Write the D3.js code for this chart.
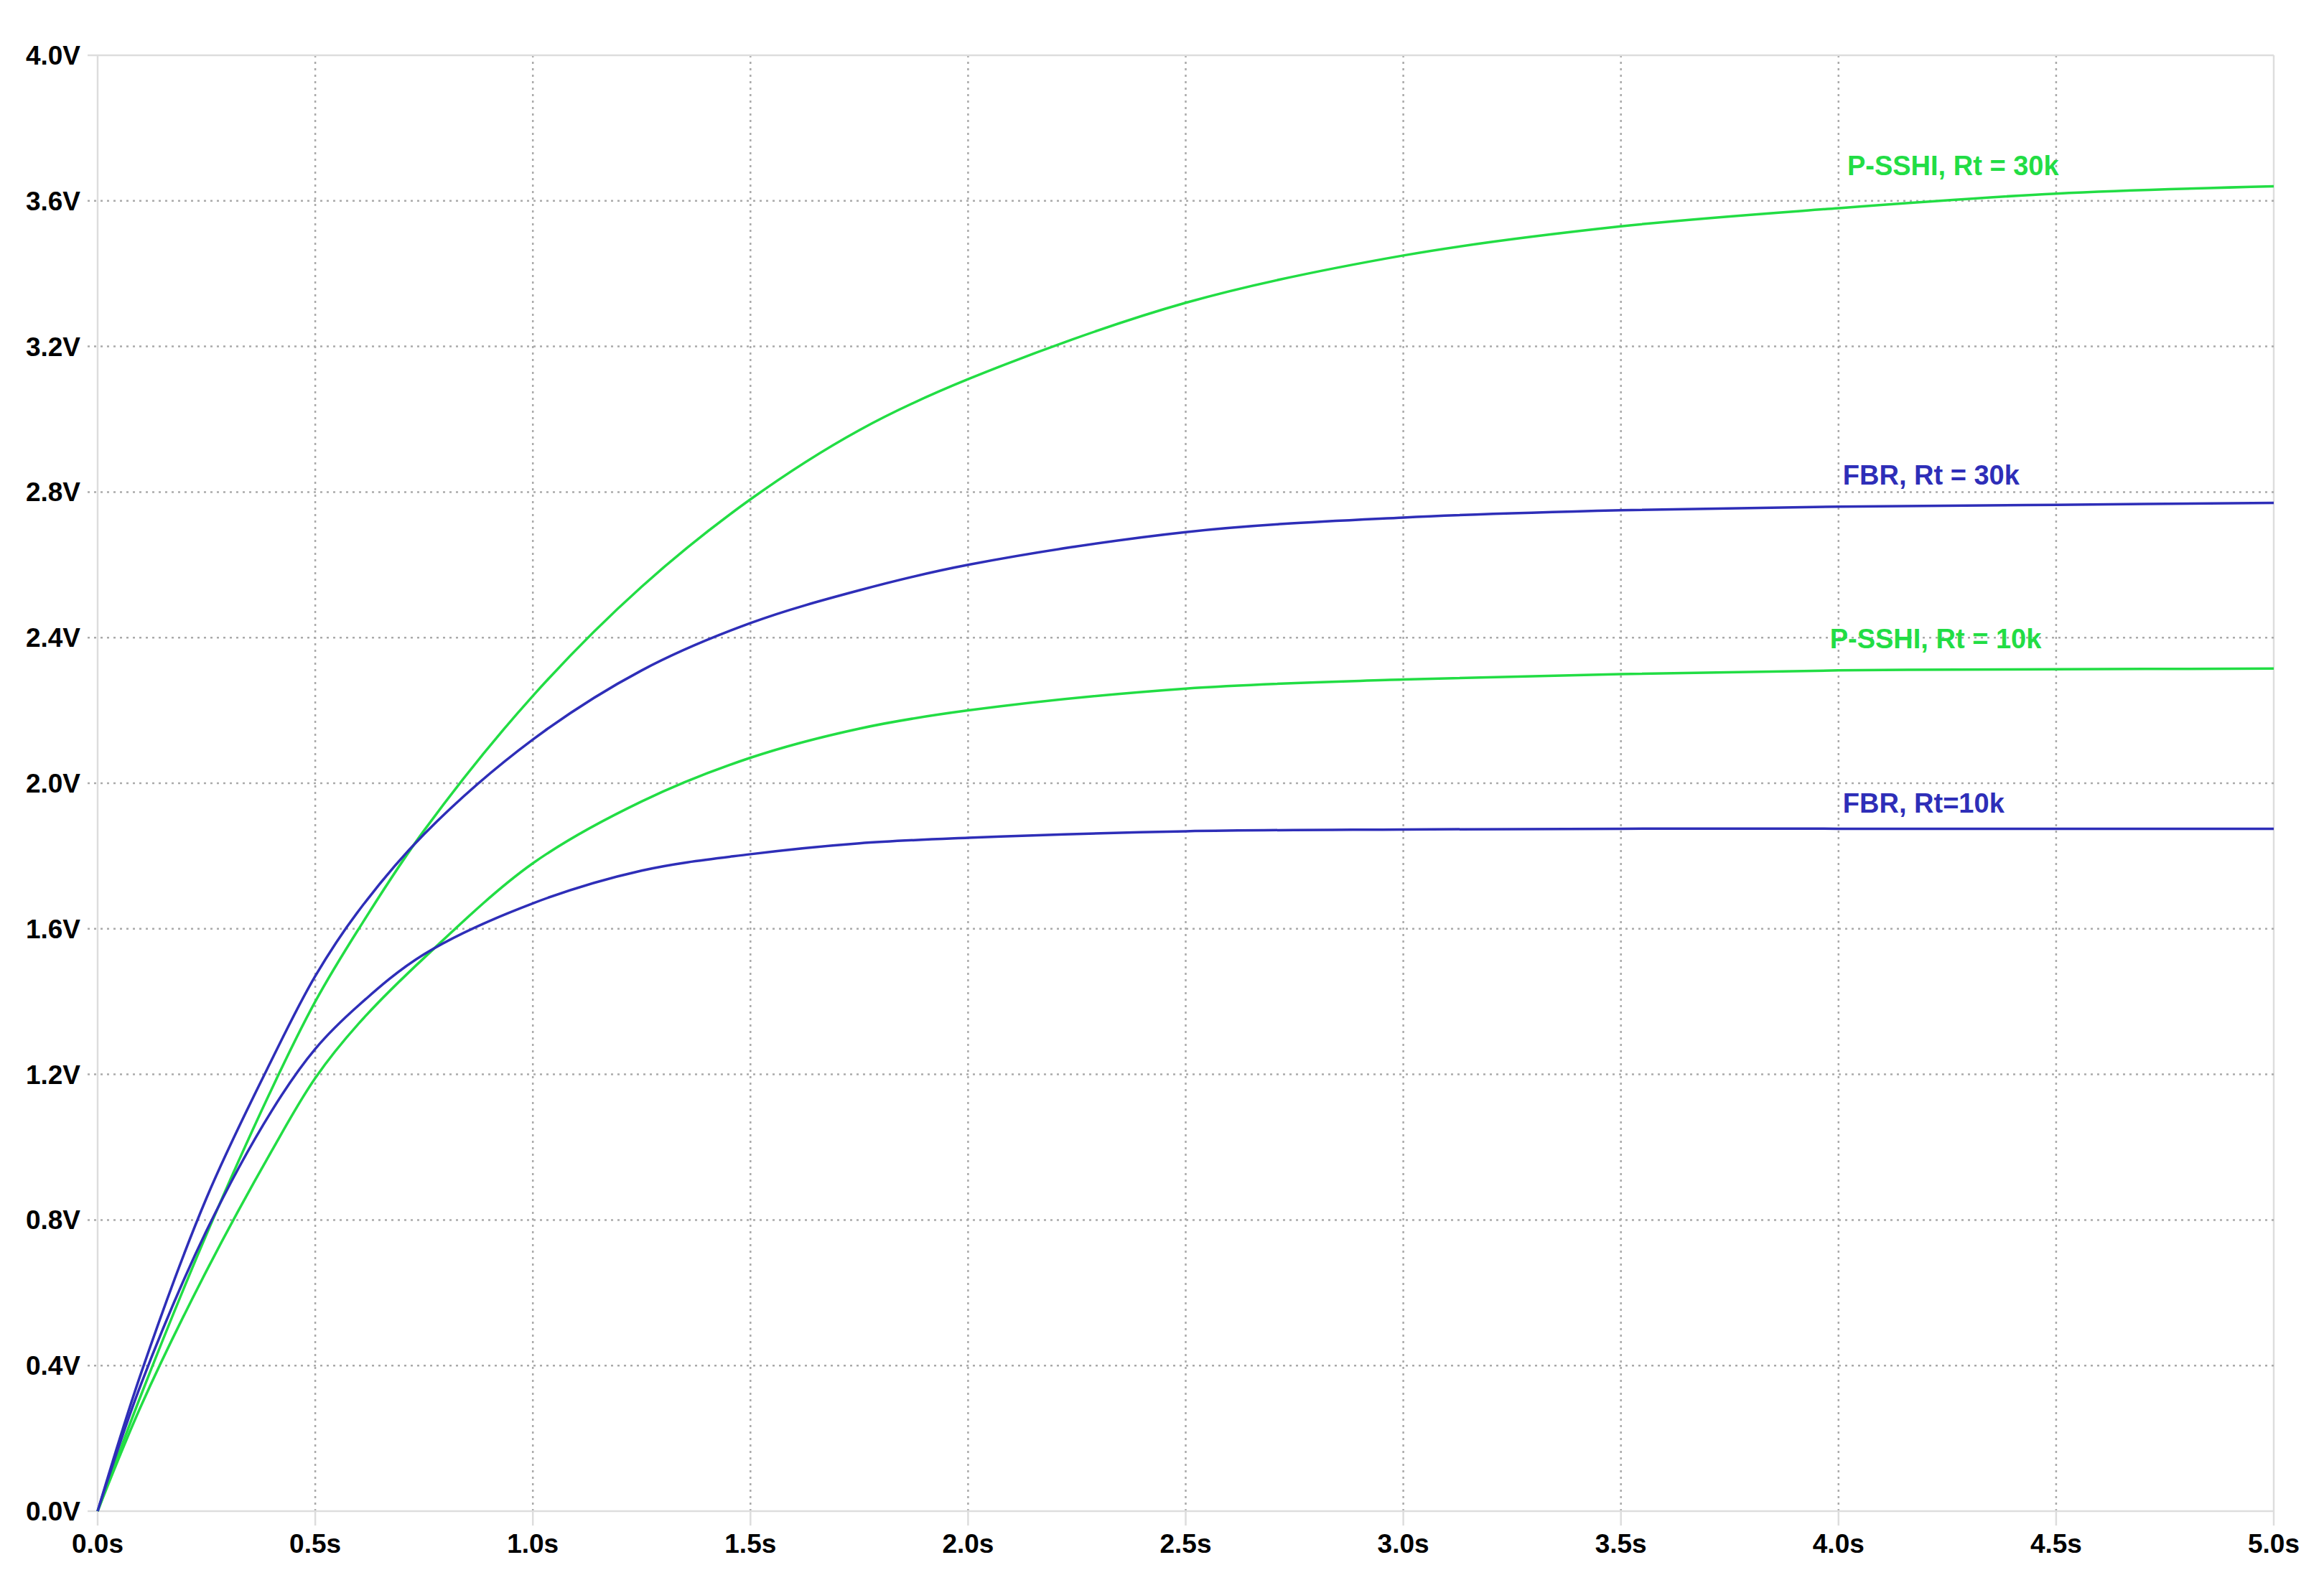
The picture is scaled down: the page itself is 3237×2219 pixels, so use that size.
<!DOCTYPE html><html><head><script src="https://cdn.jsdelivr.net/npm/d3@7"></script>
<style>body{margin:0;background:#fff}</style></head><body><svg id="c" width="3237" height="2219"></svg><script>
const times=[0,0.1,0.25,0.4,0.5,0.6,0.75,1.0,1.25,1.5,1.75,2.0,2.5,3.0,3.5,4.0,4.5,5.0];
const psshi30=[0,0.32,0.76,1.16,1.40,1.60,1.87,2.24,2.54,2.78,2.97,3.11,3.32,3.45,3.53,3.58,3.62,3.64];
const fbr30=[0,0.38,0.86,1.24,1.47,1.65,1.86,2.12,2.31,2.44,2.53,2.60,2.69,2.73,2.75,2.76,2.765,2.77];
const psshi10=[0,0.29,0.66,0.99,1.19,1.34,1.52,1.78,1.95,2.07,2.15,2.20,2.26,2.285,2.30,2.31,2.313,2.315];
const fbr10=[0,0.35,0.77,1.10,1.27,1.39,1.53,1.67,1.76,1.805,1.835,1.85,1.868,1.873,1.875,1.875,1.875,1.875];
const series=[
 {name:"P-SSHI, Rt = 30k",v:psshi30,c:"#22dd44",lx:4.02,ly:3.67},
 {name:"FBR, Rt = 30k",v:fbr30,c:"#2e2eb8",lx:4.01,ly:2.82},
 {name:"P-SSHI, Rt = 10k",v:psshi10,c:"#22dd44",lx:3.98,ly:2.37},
 {name:"FBR, Rt=10k",v:fbr10,c:"#2e2eb8",lx:4.01,ly:1.92}];
const xTicks=d3.range(0,5.01,0.5), yTicks=d3.range(0,4.01,0.4);
const svg=d3.select("#c");
const x=d3.scaleLinear([0,5],[136,3167]), y=d3.scaleLinear([0,4],[2105,77]);
const g=svg.append("g");
g.selectAll(".vx").data(xTicks).join("line").attr("x1",d=>x(d)).attr("x2",d=>x(d)).attr("y1",y(4)).attr("y2",y(0))
 .attr("stroke-width",2.5).attr("stroke-dasharray",(d,i)=>i==0||i==10?null:"3,6").attr("stroke",(d,i)=>i==0||i==10?"#ddd":"#aaa");
g.selectAll(".hy").data(yTicks).join("line").attr("y1",d=>y(d)).attr("y2",d=>y(d)).attr("x1",x(0)-14).attr("x2",x(5))
 .attr("stroke-width",2.5).attr("stroke-dasharray",(d,i)=>i==0||i==10?null:"3,6").attr("stroke",(d,i)=>i==0||i==10?"#ddd":"#aaa");
g.selectAll(".tx").data(xTicks).join("line").attr("x1",d=>x(d)).attr("x2",d=>x(d)).attr("y1",y(0)).attr("y2",y(0)+20).attr("stroke","#ddd").attr("stroke-width",2.5);
svg.selectAll(".xl").data(xTicks).join("text").attr("x",d=>x(d)).attr("y",2163).attr("text-anchor","middle")
 .attr("font-family","Liberation Sans, Arial").attr("font-weight","bold").attr("font-size",37).text(d=>d.toFixed(1)+"s");
svg.selectAll(".yl").data(yTicks).join("text").attr("x",112).attr("y",d=>y(d)+13).attr("text-anchor","end")
 .attr("font-family","Liberation Sans, Arial").attr("font-weight","bold").attr("font-size",37).text(d=>d.toFixed(1)+"V");
const line=d3.line().x((d,i)=>x(times[i])).y(d=>y(d)).curve(d3.curveCatmullRom);
series.forEach(s=>{
 svg.append("path").attr("d",line(s.v)).attr("fill","none").attr("stroke",s.c).attr("stroke-width",3.5);
 svg.append("text").attr("x",x(s.lx)).attr("y",y(s.ly)).attr("fill",s.c).attr("font-family","Liberation Sans, Arial")
  .attr("font-weight","bold").attr("font-size",38).text(s.name);
});
</script></body></html>
